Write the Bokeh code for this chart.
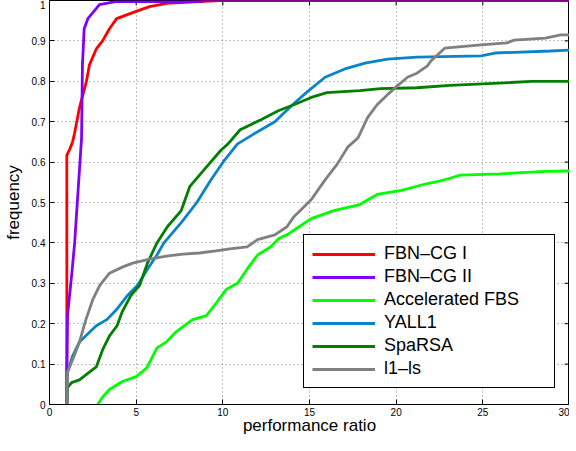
import math
from bokeh.plotting import figure
from bokeh.models import Range1d, FixedTicker, Legend, LegendItem
from bokeh.embed import file_html
from bokeh.resources import INLINE

# ---- data ----
x_ticks = [0, 5, 10, 15, 20, 25, 30]
y_ticks = [0, 0.1, 0.2, 0.3, 0.4, 0.5, 0.6, 0.7, 0.8, 0.9, 1.0]
y_tick_labels = ["0", "0.1", "0.2", "0.3", "0.4", "0.5", "0.6", "0.7", "0.8", "0.9", "1"]

names = ["FBN\u2013CG I", "FBN\u2013CG II", "Accelerated FBS", "YALL1", "SpaRSA", "l1\u2013ls"]
colors = ["#ff0000", "#8000ff", "#00ff00", "#0a84c8", "#007f00", "#808080"]

fbn1_x = [1, 1, 1.15, 1.33, 1.44, 1.73, 2.13, 2.3, 2.7, 3.06, 3.46, 3.87, 4.8, 5.77, 6.75, 8.66, 9.8, 30]
fbn1_y = [0, 0.617, 0.63, 0.65, 0.67, 0.735, 0.80, 0.84, 0.88, 0.90, 0.93, 0.955, 0.97, 0.985, 0.993, 0.997, 1.0, 1.0]

fbn2_x = [1, 1, 1.04, 1.3, 1.45, 1.65, 1.85, 1.9, 2.0, 2.21, 2.5, 2.69, 2.88, 3.8, 8.7, 9.0, 30]
fbn2_y = [0, 0.08, 0.22, 0.33, 0.40, 0.53, 0.66, 0.84, 0.93, 0.955, 0.97, 0.98, 0.99, 0.997, 0.997, 1.0, 1.0]

afbs_x = [2.77, 3.1, 3.46, 4.2, 5.0, 5.6, 5.9, 6.2, 6.75, 7.3, 8.25, 9.05, 9.6, 10.2, 10.85, 11.4, 12.0,
          12.75, 13.2, 13.7, 14.4, 15.1, 16.4, 17.9, 18.9, 20.3, 21.8, 22.5, 23.1, 23.7, 26.0, 28.6, 30]
afbs_y = [0, 0.02, 0.037, 0.057, 0.069, 0.09, 0.115, 0.14, 0.155, 0.18, 0.21, 0.22, 0.25, 0.285, 0.30, 0.335, 0.37,
          0.39, 0.41, 0.42, 0.44, 0.46, 0.48, 0.495, 0.52, 0.53, 0.547, 0.553, 0.56, 0.568, 0.571, 0.577, 0.578]

yall_x = [1, 1, 1.04, 1.33, 1.73, 2.1, 2.7, 3.3, 3.87, 4.5, 5.08, 5.65, 6.2, 6.6, 7.6, 8.5, 9.3, 10.1,
          10.85, 11.8, 13.0, 14.1, 14.9, 15.9, 17.0, 18.2, 19.5, 21.2, 24.9, 25.7, 28.9, 30]
yall_y = [0, 0.05, 0.08, 0.12, 0.155, 0.17, 0.195, 0.21, 0.235, 0.27, 0.295, 0.335, 0.37, 0.40, 0.45, 0.50, 0.555, 0.605,
          0.645, 0.67, 0.70, 0.745, 0.775, 0.81, 0.83, 0.845, 0.855, 0.86, 0.863, 0.87, 0.875, 0.877]

spa_x = [1, 1.04, 1.27, 1.73, 2.3, 2.7, 3.06, 3.46, 3.9, 4.2, 4.7, 5.2, 5.65, 6.2, 6.8, 7.6, 8.1, 8.9, 9.9,
         10.3, 11.0, 12.2, 13.2, 14.1, 15.1, 16.0, 17.9, 19.1, 21.2, 23.1, 26.6, 27.8, 30]
spa_y = [0, 0.042, 0.054, 0.061, 0.08, 0.093, 0.135, 0.17, 0.195, 0.23, 0.27, 0.295, 0.35, 0.40, 0.44, 0.48, 0.54, 0.58, 0.63,
         0.645, 0.68, 0.705, 0.727, 0.742, 0.76, 0.772, 0.777, 0.782, 0.784, 0.79, 0.797, 0.80, 0.80]

l1ls_x = [1, 1.04, 1.33, 1.73, 2.1, 2.5, 2.9, 3.46, 4.2, 4.8, 5.77, 6.75, 7.7, 8.65, 9.6, 10.4, 11.4, 12.0,
          13.0, 13.7, 14.1, 15.1, 15.9, 16.6, 17.2, 17.8, 18.35, 18.9, 19.5, 20.1, 20.65, 21.2, 21.8, 22.0,
          22.8, 24.9, 26.4, 26.8, 28.6, 29.5, 30]
l1ls_y = [0, 0.08, 0.11, 0.155, 0.21, 0.26, 0.295, 0.325, 0.34, 0.35, 0.36, 0.367, 0.372, 0.375, 0.38, 0.385, 0.39, 0.408,
          0.42, 0.44, 0.465, 0.507, 0.556, 0.595, 0.637, 0.66, 0.71, 0.742, 0.767, 0.79, 0.81, 0.82, 0.838, 0.85,
          0.882, 0.89, 0.895, 0.902, 0.907, 0.915, 0.915]

series_x = [fbn1_x, fbn2_x, afbs_x, yall_x, spa_x, l1ls_x]
series_y = [fbn1_y, fbn2_y, afbs_y, yall_y, spa_y, l1ls_y]

FONT = "Liberation Sans"
X0, X1 = x_ticks[0], x_ticks[-1]
Y0, Y1 = y_ticks[0], y_ticks[-1]

p = figure(frame_width=520, frame_height=404, output_backend="svg", toolbar_location=None,
           x_range=Range1d(X0, X1), y_range=Range1d(Y0, Y1),
           min_border_left=46, min_border_right=0, min_border_top=0, min_border_bottom=0)
p.background_fill_color = "white"
p.border_fill_color = "white"
p.outline_line_color = "black"
p.outline_line_width = 1

# axes
p.xaxis.ticker = FixedTicker(ticks=x_ticks)
p.yaxis.ticker = FixedTicker(ticks=y_ticks)
p.yaxis.major_label_overrides = {t: l for t, l in zip(y_ticks, y_tick_labels)}
p.xaxis.major_label_overrides = {t: str(t) for t in x_ticks}
for ax in (p.xaxis[0], p.yaxis[0]):
    ax.axis_line_color = "black"
    ax.major_tick_line_color = "black"
    ax.major_tick_in = 5
    ax.major_tick_out = 0
    ax.minor_tick_line_color = None
    ax.major_label_text_font = FONT
    ax.major_label_text_font_size = "10px"
    ax.major_label_text_color = "black"
    ax.axis_label_text_font = FONT
    ax.axis_label_text_font_size = "17px"
    ax.axis_label_text_font_style = "normal"
    ax.axis_label_text_color = "black"
p.xaxis.axis_label = "performance ratio"
p.yaxis.axis_label = "frequency"
p.xaxis.major_label_standoff = 3
p.xaxis.axis_label_standoff = -3
p.yaxis.major_label_standoff = 4
p.yaxis.axis_label_standoff = 6

# inward ticks on the top and right edges of the box
p.ray(x=x_ticks, y=[Y1] * len(x_ticks), length=5, length_units="screen",
      angle=-math.pi / 2, line_color="black", line_width=1)
p.ray(x=[X1] * len(y_ticks), y=y_ticks, length=5, length_units="screen",
      angle=math.pi, line_color="black", line_width=1)

# grid
for g in (p.xgrid[0], p.ygrid[0]):
    g.grid_line_color = "#808080"
    g.grid_line_dash = "1 3"
    g.grid_line_width = 1
p.xgrid.ticker = FixedTicker(ticks=x_ticks[1:-1])
p.ygrid.ticker = FixedTicker(ticks=y_ticks[1:-1])

items = []
for nm, c, xs, ys in zip(names, colors, series_x, series_y):
    r = p.line(xs, ys, line_color=c, line_width=2.8)
    items.append(LegendItem(label=nm, renderers=[r]))

legend = Legend(items=items, location=(254, 16), margin=0, padding=8, spacing=2,
                label_height=20, glyph_height=20, glyph_width=63, label_standoff=9,
                label_width=162,
                label_text_font=FONT, label_text_font_size="18px", label_text_color="black",
                border_line_color="black", border_line_width=1, border_line_alpha=1,
                background_fill_color="white", background_fill_alpha=1)
p.add_layout(legend, "center")

open("out.html", "w").write(file_html(p, INLINE))
